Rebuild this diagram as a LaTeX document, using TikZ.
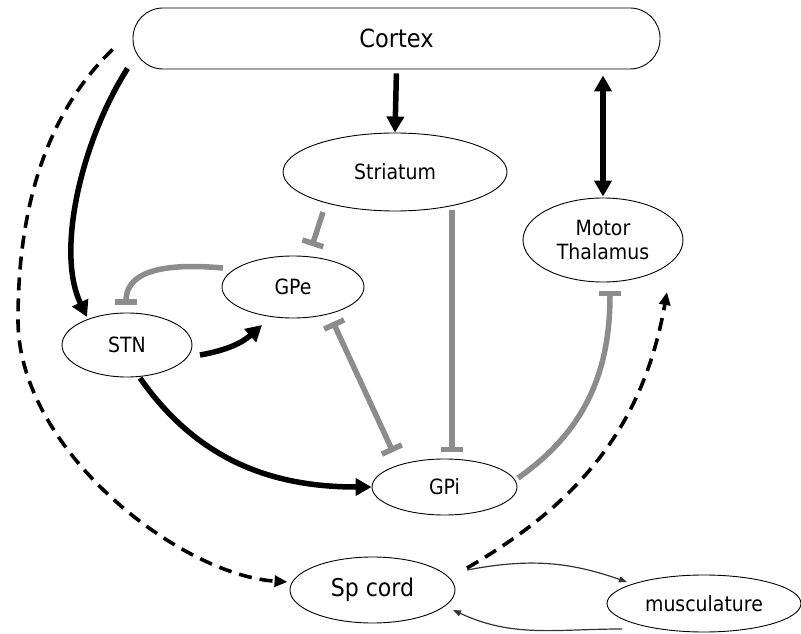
\documentclass[tikz,border=0pt]{standalone}
\usepackage{fontspec}
\setmainfont{DejaVu Sans}[FakeStretch=0.9]
\usepackage{tikz}
\usetikzlibrary{arrows.meta,shapes.geometric,calc,positioning}
\definecolor{inhgray}{RGB}{140,140,140}
\tikzstyle{region}=[draw,ellipse,inner sep=0pt,line width=0.9pt,align=center,font=\fontsize{21}{24}\selectfont]
\tikzstyle{excite}=[line width=5.5pt,>={Triangle[length=16pt,width=17pt]},->]
\tikzstyle{inhibit}=[inhgray,line width=5.5pt,-{Bar[width=22pt]}]
\tikzstyle{spinal}=[line width=3.6pt,dash pattern=on 13pt off 8pt,-{Triangle[length=13pt,width=11pt]}]
\tikzstyle{reflex}=[black!80,line width=1.2pt,-{Triangle[length=8pt,width=6pt]}]

\begin{document}
\begin{tikzpicture}[x=1pt,y=1pt]
\useasboundingbox (0,0) rectangle (801,633);

\node [draw,rounded corners=30pt,minimum width=527pt,minimum height=61pt,line width=0.9pt,
  font=\fontsize{25}{28}\selectfont] (cortex) at (396.5,594.5) {Cortex};
\node [region,minimum width=224pt,minimum height=78pt] (striatum) at (395,461) {Striatum};
\node [region,minimum width=160pt,minimum height=84pt] (thalamus) at (603,393) {Motor\\Thalamus};
\node [region,minimum width=142pt,minimum height=62pt] (gpe) at (293,346) {GPe};
\node [region,minimum width=130pt,minimum height=64pt] (stn) at (127,288) {STN};
\node [region,minimum width=145pt,minimum height=56pt] (gpi) at (444.5,146) {GPi};
\node [region,minimum width=165pt,minimum height=66pt,font=\fontsize{24.5}{28}\selectfont] (spcord) at (372.5,43) {Sp cord};
\node [region,minimum width=194pt,minimum height=57pt] (muscle) at (704,29.5) {musculature};

% excitatory
\draw [excite,shorten <=4pt] (cortex.south) -- (striatum.north);
\draw [excite,<->,shorten <=6pt,shorten >=1pt] (cortex.south -| thalamus.north) -- (thalamus.north);
\draw [excite] ($(cortex.south west)+(-5,1)$) .. controls (83,495) and (55,383) .. ($(stn)+(-40,28)$);
\draw [excite] ($(stn)+(73,-10)$) to[out=10,in=222] ($(gpe)+(-31,-38)$);
\draw [excite] ($(stn)+(13,-33)$) to[out=-55,in=180] (gpi.west);

% inhibitory
\draw [inhibit] ($(striatum)+(-72,-40)$) -- ($(gpe)+(19,41)$);
\draw [inhibit] ($(striatum)+(57,-38)$) -- ($(gpi)+(7.5,35)$);
\draw [inhibit] ($(gpe)+(-70,19)$) to[out=175,in=90] ($(stn)+(-1,40)$);
\draw [inhibit,{Bar[width=22pt]}-{Bar[width=22pt]}] ($(gpe)+(40,-35)$) -- ($(gpi)+(-51.5,35)$);
\draw [inhibit] ($(gpi)+(73.5,9)$) to[out=35,in=-90] ($(thalamus)+(7,-51)$);

% spinal
\draw [spinal] ($(cortex.west)+(-20,-11)$) .. controls (50,523) and (18,433) .. (18,313)
  .. controls (18,183) and (180,58) .. ($(spcord.west)+(-2,8)$);
\draw [spinal] ($(spcord)+(94.5,22)$) to[out=30,in=-100] ($(thalamus)+(64,-52)$);
\draw [reflex] ($(spcord)+(94.5,20)$) to[bend left=15] ($(muscle)+(-77,21.5)$);
\draw [reflex] ($(muscle)+(-82,-25.5)$) to[out=180,in=-25] ($(spcord)+(80.5,-20)$);
\end{tikzpicture}
\end{document}
